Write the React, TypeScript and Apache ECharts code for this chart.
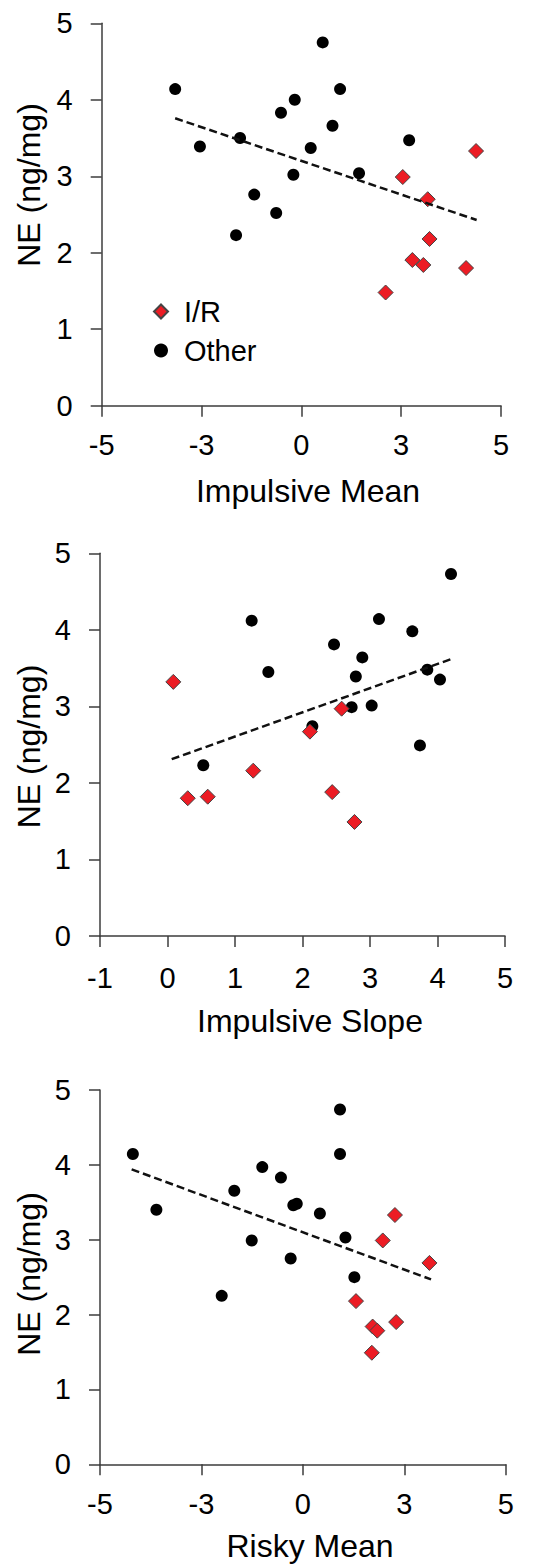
import React, { useEffect, useRef } from "react";
import * as echarts from "echarts";

// ---- tick labels ----
const yTickLabels = ["0", "1", "2", "3", "4", "5"];
const xTickLabelsMean = ["-5", "-3", "0", "3", "5"];
const xTickLabelsSlope = ["-1", "0", "1", "2", "3", "4", "5"];

// ---- axis titles ----
const yTitle = "NE (ng/mg)";
const xTitles = ["Impulsive Mean", "Impulsive Slope", "Risky Mean"];
const seriesNames = ["I/R", "Other"];

// ---- panel 1: Impulsive Mean ----
const impMeanIR = [
  [2.54, 2.99], [3.165, 2.7], [4.375, 3.33], [3.21, 2.18],
  [2.78, 1.905], [3.055, 1.84], [4.125, 1.8], [2.11, 1.48],
];
const impMeanOther = [
  [-3.16, 4.14], [-2.54, 3.39], [-1.535, 3.5], [-1.635, 2.23], [-1.18, 2.76],
  [-0.63, 2.52], [-0.51, 3.83], [-0.165, 4.0], [-0.2, 3.02], [0.235, 3.37],
  [0.535, 4.75], [0.78, 3.66], [0.97, 4.14], [1.445, 3.04], [2.7, 3.47],
];
const impMeanTrend = [[-3.16, 3.758], [4.39, 2.428]];

// ---- panel 2: Impulsive Slope ----
const impSlopeIR = [
  [0.086, 3.32], [2.58, 2.97], [2.11, 2.67], [1.27, 2.16],
  [0.3, 1.8], [0.596, 1.82], [2.44, 1.88], [2.77, 1.49],
];
const impSlopeOther = [
  [1.247, 4.12], [1.494, 3.45], [2.467, 3.81], [2.886, 3.64], [2.79, 3.39],
  [3.133, 4.14], [3.627, 3.98], [4.2, 4.73], [3.849, 3.48], [4.037, 3.35],
  [2.728, 2.99], [3.025, 3.01], [3.74, 2.49], [2.146, 2.74], [0.53, 2.23],
];
const impSlopeTrend = [[0.062, 2.31], [4.21, 3.62]];

// ---- panel 3: Risky Mean ----
const riskyIR = [
  [2.27, 3.33], [1.97, 2.99], [3.12, 2.69], [1.31, 2.18],
  [1.72, 1.84], [1.835, 1.785], [2.3, 1.9], [1.7, 1.49],
];
const riskyOther = [
  [-4.19, 4.145], [-3.61, 3.4], [-1.69, 3.655], [-1.0, 3.97], [-0.54, 3.83],
  [-0.235, 3.46], [-0.15, 3.48], [0.42, 3.35], [0.916, 4.74], [0.916, 4.145],
  [1.05, 3.03], [-1.26, 2.99], [-0.3, 2.75], [1.27, 2.5], [-2.0, 2.25],
];
const riskyTrend = [[-4.22, 3.94], [3.16, 2.47]];

const FONT = "Liberation Sans, Arial, sans-serif";
const AXIS_COLOR = "#3c3c3c";
const RED = "#ec1c24";

export default function App() {
  const ref = useRef<HTMLDivElement>(null);

  useEffect(() => {
    if (!ref.current) return;
    const chart = echarts.init(ref.current, undefined, { renderer: "svg" });

    const grids = [
      { left: 101.7, top: 23.3, width: 399.3, height: 382.4 },
      { left: 100, top: 553.3, width: 405, height: 382.7 },
      { left: 100, top: 1090, width: 405.7, height: 374.3 },
    ];

    const xCfg = [
      { min: -5, max: 5, interval: 2.5, labels: xTickLabelsMean, margin: 25 },
      { min: -1, max: 5, interval: 1, labels: xTickLabelsSlope, margin: 27 },
      { min: -5, max: 5, interval: 2.5, labels: xTickLabelsMean, margin: 25 },
    ];

    const axisCommon = {
      axisLine: { show: true, onZero: false, lineStyle: { color: AXIS_COLOR, width: 1.5 } },
      axisTick: { show: true, inside: false, length: 11, lineStyle: { color: AXIS_COLOR, width: 1.5 } },
      splitLine: { show: false },
    };

    const xAxis = xCfg.map((c, i) => ({
      type: "value",
      gridIndex: i,
      min: c.min,
      max: c.max,
      interval: c.interval,
      ...axisCommon,
      axisLabel: {
        fontSize: 29,
        fontFamily: FONT,
        color: "#000",
        margin: c.margin,
        showMinLabel: true,
        showMaxLabel: true,
        formatter: (_v: number, idx: number) => c.labels[idx],
      },
    }));

    const yAxis = [0, 1, 2].map((i) => ({
      type: "value",
      gridIndex: i,
      min: 0,
      max: 5,
      interval: 1,
      ...axisCommon,
      axisLabel: {
        fontSize: 29,
        fontFamily: FONT,
        color: "#000",
        margin: 29,
        formatter: (_v: number, idx: number) => yTickLabels[idx],
      },
    }));

    const panels = [
      { ir: impMeanIR, other: impMeanOther, trend: impMeanTrend },
      { ir: impSlopeIR, other: impSlopeOther, trend: impSlopeTrend },
      { ir: riskyIR, other: riskyOther, trend: riskyTrend },
    ];

    const series: any[] = [];
    panels.forEach((p, i) => {
      series.push({
        type: "scatter",
        name: seriesNames[1],
        xAxisIndex: i,
        yAxisIndex: i,
        symbol: "circle",
        symbolSize: 12,
        itemStyle: { color: "#000", opacity: 1 },
        data: p.other,
        z: 2,
      });
      series.push({
        type: "scatter",
        name: seriesNames[0],
        xAxisIndex: i,
        yAxisIndex: i,
        symbol: "diamond",
        symbolSize: 15,
        itemStyle: { color: RED, borderColor: "#444", borderWidth: 1, opacity: 1 },
        data: p.ir,
        z: 3,
      });
      series.push({
        type: "line",
        name: "trend",
        xAxisIndex: i,
        yAxisIndex: i,
        showSymbol: false,
        symbol: "none",
        lineStyle: { color: "#111", width: 2.5, type: [8, 4] },
        data: p.trend,
        z: 4,
        silent: true,
      });
    });

    const xTitlePos = [
      { x: 308, y: 491 },
      { x: 310, y: 1021 },
      { x: 310, y: 1546 },
    ];
    const yTitlePos = [
      { x: 29, y: 185 },
      { x: 29, y: 746.5 },
      { x: 29, y: 1274 },
    ];

    const graphic: any[] = [];
    xTitles.forEach((t, i) => {
      graphic.push({
        type: "text",
        x: xTitlePos[i].x,
        y: xTitlePos[i].y,
        style: {
          text: t,
          fontSize: 32,
          fontFamily: FONT,
          fill: "#000",
          align: "center",
          verticalAlign: "middle",
        },
      });
      graphic.push({
        type: "text",
        x: yTitlePos[i].x,
        y: yTitlePos[i].y,
        rotation: Math.PI / 2,
        style: {
          text: yTitle,
          fontSize: 32,
          fontFamily: FONT,
          fill: "#000",
          align: "center",
          verticalAlign: "middle",
        },
      });
    });

    chart.setOption({
      animation: false,
      backgroundColor: "#fff",
      grid: grids,
      xAxis,
      yAxis,
      series,
      graphic,
      legend: {
        data: [seriesNames[0], seriesNames[1]],
        orient: "vertical",
        left: 153,
        top: 297,
        itemWidth: 14,
        itemHeight: 14,
        itemGap: 10,
        padding: 0,
        selectedMode: false,
        textStyle: {
          fontSize: 29,
          fontFamily: FONT,
          color: "#000",
          lineHeight: 29,
          padding: [0, 0, 0, 11],
        },
      },
    });

    return () => chart.dispose();
  }, []);

  return (
    <div
      ref={ref}
      style={{ position: "fixed", left: 0, top: 0, width: 537, height: 1566, background: "#fff" }}
    />
  );
}
